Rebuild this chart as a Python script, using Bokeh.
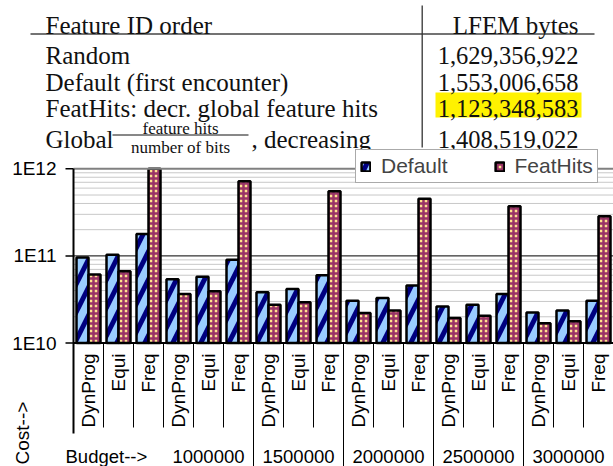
import math
from bokeh.plotting import figure
from bokeh.models import Range1d, ColumnDataSource, Legend, LinearScale
from bokeh.transform import dodge
from bokeh.core.properties import value
from bokeh.embed import file_html
from bokeh.resources import INLINE

# ---------------- data ----------------
order_names = ["Random", "Default (first encounter)", "FeatHits: decr. global feature hits", "Global"]
frac_num = "feature hits"
frac_den = "number of bits"
frac_suffix = ", decreasing"
lfem_bytes = [1629356922, 1553006658, 1123348583, 1408519022]
best_row = 2
table_head = ["Feature ID order", "LFEM bytes"]

budgets = ["Budget-->", "1000000", "1500000", "2000000", "2500000", "3000000"]
methods = ["DynProg", "Equi", "Freq"]
default_cost = [9.6e10, 1.03e11, 1.79e11, 5.4e10, 5.78e10, 9.06e10,
                3.82e10, 4.17e10, 6.0e10, 3.06e10, 3.29e10, 4.56e10,
                2.62e10, 2.74e10, 3.66e10, 2.24e10, 2.36e10, 3.06e10]
feathits_cost = [6.1e10, 6.65e10, 1.0e12, 3.66e10, 3.92e10, 7.2e11,
                 2.75e10, 2.93e10, 5.53e11, 2.21e10, 2.36e10, 4.52e11,
                 1.94e10, 2.06e10, 3.72e11, 1.69e10, 1.78e10, 2.85e11]
y_ticks = [1e10, 1e11, 1e12]
y_tick_labels = ["1E10", "1E11", "1E12"]
series_names = ["Default", "FeatHits"]
y_title = "Cost-->"

# ---------------- layout constants (pixels) ----------------
W, H = 613, 466
AX_X = 73          # y axis position
CAT_W = 30         # width of one category
TOP_TICK_Y = 168.3
BOT_TICK_Y = 342.5
SANS = "Liberation Sans"
SERIF = "Liberation Serif"

n_cat = len(budgets) * len(methods)
dec_px = (BOT_TICK_Y - TOP_TICK_Y) / (math.log10(y_ticks[-1]) - math.log10(y_ticks[0]))
y_start = 10 ** (math.log10(y_ticks[0]) - (H - BOT_TICK_Y) / dec_px)
y_end = 10 ** (math.log10(y_ticks[-1]) + TOP_TICK_Y / dec_px)
x_start = -AX_X / CAT_W
x_end = (W - AX_X) / CAT_W

p = figure(width=W, height=H, x_range=Range1d(x_start, x_end), y_range=Range1d(y_start, y_end),
           y_axis_type="log", output_backend="svg", toolbar_location=None,
           min_border=0, x_axis_location=None, y_axis_location=None)
p.extra_x_ranges = {"px": Range1d(0, W)}
p.extra_y_ranges = {"px": Range1d(start=H, end=0)}
p.extra_x_scales = {"px": LinearScale()}
p.extra_y_scales = {"px": LinearScale()}
p.outline_line_color = None
p.xgrid.visible = False
p.ygrid.visible = False
PX = dict(x_range_name="px", y_range_name="px")

# ---------------- table ----------------
row_base = [55, 81.5, 108, 138.5]
num_text = [f"{n:,}" for n in lfem_bytes]

p.quad(left=435, right=581, top=row_base[best_row] - 16, bottom=row_base[best_row] + 9,
       fill_color="#fff200", line_color=None, **PX)
p.segment(x0=[30], y0=[33.5], x1=[594], y1=[33.5], line_color="#444444", line_width=1.7, **PX)
p.segment(x0=[421.7], y0=[5], x1=[421.7], y1=[147], line_color="#333333", line_width=1.3, **PX)

tf = dict(text_font=value(SERIF), text_font_size="25px", text_color="#111111",
          text_baseline="alphabetic")
nf = dict(text_font=value(SERIF), text_font_size="24.5px", text_color="#111111",
          text_baseline="alphabetic")
p.text(x=[45], y=[25], text=[table_head[0]], text_align="left", **tf, **PX)
p.text(x=[578], y=[25], text=[table_head[1]], text_align="right", **tf, **PX)
p.text(x=[45] * 4, y=row_base, text=order_names, text_align="left", **tf, **PX)
p.text(x=[578] * 4, y=row_base, text=num_text, text_align="right", **nf, **PX)
sf = dict(text_font=value(SERIF), text_font_size="17px", text_color="#111111",
          text_baseline="alphabetic", text_align="center")
p.text(x=[180], y=[127.5], text=[frac_num], **sf, **PX)
p.text(x=[180], y=[147], text=[frac_den], **sf, **PX)
p.segment(x0=[112], y0=[134.5], x1=[248], y1=[134.5], line_color="#111111", line_width=1, **PX)
p.text(x=[251], y=[row_base[3]], text=[frac_suffix], text_align="left", **tf, **PX)

# ---------------- chart: grid, axes ----------------
minor = [m * 10 ** e for e in range(int(math.log10(y_ticks[0])), int(math.log10(y_ticks[-1])))
         for m in range(2, 10)]
p.segment(x0=[0] * len(minor), y0=minor, x1=[n_cat] * len(minor), y1=minor,
          line_color="#c8c8c8", line_width=1)
p.segment(x0=[0], y0=[y_ticks[1]], x1=[n_cat], y1=[y_ticks[1]], line_color="black", line_width=1)

cats = [(b, m) for b in budgets for m in methods]
src = ColumnDataSource(dict(
    x=[i + 0.5 for i in range(n_cat)],
    default=default_cost,
    feathits=feathits_cost,
))

r1 = p.vbar(x=dodge("x", -0.2, range=p.x_range), top="default", bottom=y_ticks[0], width=0.4,
            source=src, fill_color="#99ccff", line_color="black", line_width=2.5,
            hatch_pattern="right_diagonal_line", hatch_color="#000080",
            hatch_scale=28, hatch_weight=5)
r2 = p.vbar(x=dodge("x", 0.2, range=p.x_range), top="feathits", bottom=y_ticks[0], width=0.4,
            source=src, fill_color="#ffe38f", line_color="black", line_width=2.5,
            hatch_pattern="cross", hatch_color="#993366",
            hatch_scale=5, hatch_weight=2.5)

# top border of plot area (gray) and category axis (black)
p.segment(x0=[0], y0=[y_ticks[-1]], x1=[n_cat], y1=[y_ticks[-1]], line_color="#808080", line_width=2)
p.segment(x0=[0], y0=[y_ticks[0]], x1=[n_cat], y1=[y_ticks[0]], line_color="black", line_width=2)
# value axis line, ticks and labels
p.segment(x0=[0], y0=[y_ticks[0]], x1=[0], y1=[y_ticks[-1]], line_color="black", line_width=2)
p.segment(x0=[-8 / CAT_W] * 3, y0=y_ticks, x1=[0] * 3, y1=y_ticks, line_color="black", line_width=1.5)
p.text(x=[-17 / CAT_W] * 3, y=y_ticks, text=y_tick_labels, text_align="right", text_baseline="middle",
       text_font=value(SANS), text_font_size="19px", text_color="black")

# category separators below the axis
bounds_short = [i for i in range(1, n_cat) if i % 3 != 0 or i == 3]
bounds_long = [i for i in range(6, n_cat, 3)]
y_sep = BOT_TICK_Y
p.segment(x0=[AX_X + CAT_W * i for i in bounds_short], y0=[y_sep] * len(bounds_short),
          x1=[AX_X + CAT_W * i for i in bounds_short], y1=[427] * len(bounds_short),
          line_color="black", line_width=1, **PX)
p.segment(x0=[AX_X + CAT_W * i for i in bounds_long], y0=[y_sep] * len(bounds_long),
          x1=[AX_X + CAT_W * i for i in bounds_long], y1=[H] * len(bounds_long),
          line_color="black", line_width=1, **PX)
p.segment(x0=[AX_X], y0=[y_sep], x1=[AX_X], y1=[433], line_color="black", line_width=2, **PX)

# category labels (rotated)
lf = dict(text_font=value(SANS), text_font_size="19px", text_color="black")
p.text(x=[AX_X + CAT_W * (i + 0.5) for i in range(n_cat)], y=[353] * n_cat,
       text=[c[1] for c in cats], angle=math.pi / 2, text_align="right",
       text_baseline="middle", **lf, **PX)
# budget labels
bf = dict(text_font=value(SANS), text_font_size="18.5px", text_color="black")
p.text(x=[AX_X + CAT_W * (3 * g + 1.5) for g in range(1, len(budgets))], y=[456] * (len(budgets) - 1),
       text=budgets[1:], text_align="center", text_baseline="alphabetic", **bf, **PX)
p.text(x=[65], y=[456], text=[budgets[0]], text_align="left", text_baseline="alphabetic", **bf, **PX)
p.text(x=[21.5], y=[464], text=[y_title], angle=math.pi / 2, text_align="left",
       text_baseline="middle", **lf, **PX)

legend = Legend(items=[(series_names[0], [r1]), (series_names[1], [r2])],
                orientation="horizontal", location=(355, H - 183),
                label_text_font=SANS, label_text_font_size="21px",
                glyph_width=11, glyph_height=11, label_standoff=10, spacing=46,
                padding=4, margin=0, label_height=22,
                border_line_color="#555555", border_line_width=1.5,
                background_fill_color="white", background_fill_alpha=1)
p.add_layout(legend)

open("out.html", "w").write(file_html(p, INLINE))
